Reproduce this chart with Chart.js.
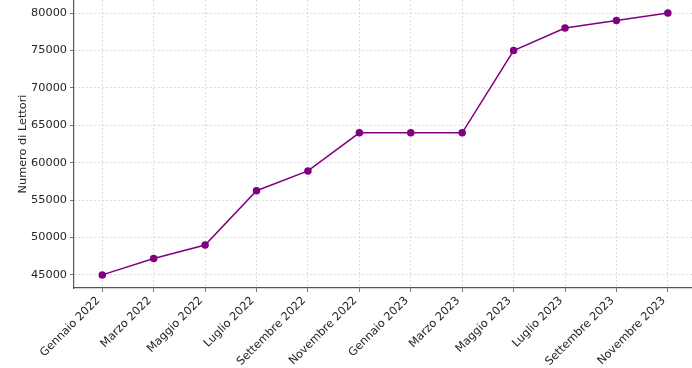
<!DOCTYPE html>
<html>
<head>
<meta charset="utf-8">
<script src="https://cdn.jsdelivr.net/npm/chart.js@4/dist/chart.umd.min.js"></script>
<style>
  html, body { margin: 0; padding: 0; background: #fff; }
  #wrap { width: 692px; height: 368px; }
</style>
</head>
<body>
<div id="wrap"><canvas id="grafico"></canvas></div>
<script>
// dati
const mesi = ["Gennaio 2022", "Marzo 2022", "Maggio 2022", "Luglio 2022", "Settembre 2022", "Novembre 2022",
  "Gennaio 2023", "Marzo 2023", "Maggio 2023", "Luglio 2023", "Settembre 2023", "Novembre 2023"];
const lettori = [45000, 47200, 49000, 56250, 58900, 64000, 64000, 64000, 75000, 78000, 79000, 80000];
const tickY = [45000, 50000, 55000, 60000, 65000, 70000, 75000, 80000];

const font = { family: "'DejaVu Sans', sans-serif", size: 11.3 };
const testo = "#262626";

const punti = lettori.map((v, i) => ({ x: i, y: v }));

function senzaPadding(s) {
  s.paddingTop = 0; s.paddingBottom = 0; s.paddingLeft = 0; s.paddingRight = 0;
}

new Chart(document.getElementById("grafico"), {
  type: "line",
  data: {
    datasets: [{
      data: punti,
      borderColor: "#800080",
      backgroundColor: "#800080",
      borderWidth: 1.5,
      pointRadius: 3,
      pointHoverRadius: 3,
      tension: 0,
      clip: false
    }]
  },
  options: {
    responsive: true,
    maintainAspectRatio: false,
    animation: false,
    layout: { padding: 0, autoPadding: false },
    plugins: { legend: { display: false }, tooltip: { enabled: false } },
    scales: {
      x: {
        type: "linear",
        min: -0.55,
        max: 11.47,
        afterBuildTicks: s => { s.ticks = mesi.map((m, i) => ({ value: i })); },
        afterFit: s => { s.height = 80; senzaPadding(s); },
        ticks: {
          autoSkip: false,
          maxRotation: 45,
          minRotation: 45,
          padding: 2,
          labelOffset: -4,
          color: testo,
          font: font,
          callback: v => mesi[v]
        },
        grid: { color: "#d4d4d4", tickColor: "#555", tickLength: 4, lineWidth: 0.8 },
        border: { color: "#555", width: 1.2, dash: [2, 2] }
      },
      y: {
        min: 43250,
        max: 81750,
        afterBuildTicks: s => { s.ticks = tickY.map(v => ({ value: v })); },
        afterFit: s => { s.width = 74; senzaPadding(s); },
        ticks: { color: testo, font: font, padding: 3, callback: v => String(v) },
        grid: { color: "#d4d4d4", tickColor: "#555", tickLength: 4, lineWidth: 0.8 },
        border: { color: "#555", width: 1.2, dash: [2, 2] },
        title: { display: true, text: "Numero di Lettori", color: testo, font: font, padding: { top: 16, bottom: 0 } }
      }
    }
  }
});
</script>
</body>
</html>
